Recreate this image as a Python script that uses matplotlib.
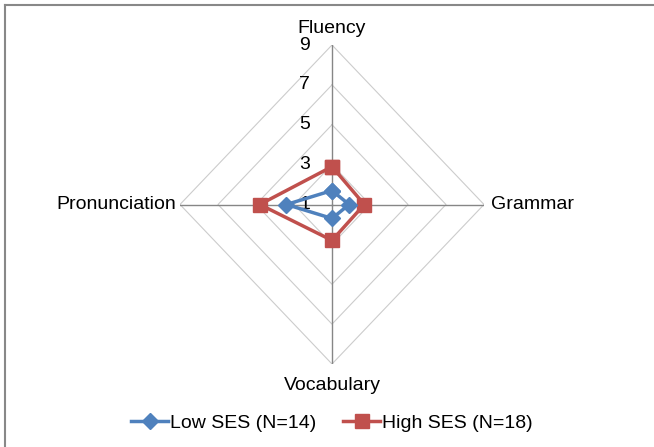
import numpy as np
import matplotlib.pyplot as plt
from matplotlib.lines import Line2D

plt.rcParams['font.family'] = ['Liberation Sans', 'DejaVu Sans']

# data
skills = ['Fluency', 'Grammar', 'Vocabulary', 'Pronunciation']
low_ses = [1.7, 1.9, 1.7, 3.4]
high_ses = [2.9, 2.7, 2.8, 4.8]
ticks = [1, 3, 5, 7, 9]
rmin, rmax = 1, 9

# spoke directions: top, right, bottom, left
dirs = np.array([[0, 1], [1, 0], [0, -1], [-1, 0]])


def to_xy(vals):
    r = np.array(vals, dtype=float) - rmin
    pts = dirs * r[:, None]
    pts = np.vstack([pts, pts[:1]])
    return pts[:, 0], pts[:, 1]


fig = plt.figure(figsize=(6.54, 4.47), dpi=100)
ax = fig.add_axes([180 / 654, 1 - 364 / 447, 304 / 654, 319 / 447])
ax.set_xlim(-(rmax - rmin), rmax - rmin)
ax.set_ylim(-(rmax - rmin), rmax - rmin)
ax.axis('off')

# gridlines
for t in ticks[1:]:
    x, y = to_xy([t] * 4)
    ax.plot(x, y, color='#cccccc', lw=0.8, zorder=1)
for d in dirs:
    ax.plot([0, d[0] * (rmax - rmin)], [0, d[1] * (rmax - rmin)],
            color='#868686', lw=1.0, zorder=2)

# tick labels on the vertical spoke
for t in ticks:
    ax.text(-1.15, t - rmin, str(t), ha='right', va='center', fontsize=14,
            color='#000000', zorder=2)

# series
x, y = to_xy(low_ses)
ax.plot(x, y, color='#4F81BD', lw=2.5, marker='D', ms=8, zorder=4,
        label='Low SES (N=14)')
x, y = to_xy(high_ses)
ax.plot(x, y, color='#C0504D', lw=2.5, marker='s', ms=10, zorder=3,
        label='High SES (N=18)')

# category labels
R = rmax - rmin
ax.text(0, R + 0.4, skills[0], ha='center', va='bottom', fontsize=14)
ax.text(R + 0.35, 0, skills[1], ha='left', va='center', fontsize=14)
ax.text(0, -R - 0.65, skills[2], ha='center', va='top', fontsize=14)
ax.text(-R - 0.2, 0, skills[3], ha='right', va='center', fontsize=14)

# legend
fig.legend(loc='center', bbox_to_anchor=(332 / 654, 1 - 423 / 447), ncol=2,
           frameon=False, fontsize=14, handlelength=1.9, handletextpad=0.1,
           columnspacing=1.4)

# chart area border (top and left)
fig.add_artist(Line2D([5 / 654, 5 / 654], [0, 1 - 5 / 447],
                      color='#888888', lw=1.5, transform=fig.transFigure))
fig.add_artist(Line2D([5 / 654, 1], [1 - 5 / 447, 1 - 5 / 447],
                      color='#888888', lw=1.5, transform=fig.transFigure))

fig.savefig('out.png', dpi=100)
